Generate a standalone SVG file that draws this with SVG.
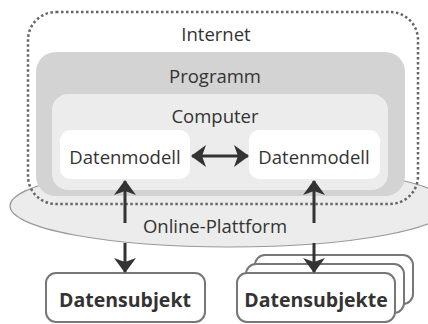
<svg xmlns="http://www.w3.org/2000/svg" width="428" height="324" viewBox="0 0 428 324">
<style>
.t{font-family:"Open Sans","Noto Sans",sans-serif;font-size:18.5px;fill:#333;text-anchor:middle}
.b{font-weight:bold;font-size:19.5px}
.subj{fill:#fff;stroke:#777;stroke-width:2}
.ln{stroke:#333;stroke-width:3;fill:none}
</style>
<defs>
<marker id="ah" viewBox="0 0 15 22" refX="14" refY="11" markerWidth="15" markerHeight="22" markerUnits="userSpaceOnUse" orient="auto-start-reverse">
<path d="M0,0 L15,11 L0,22 L4,11 Z" fill="#333"/>
</marker>
</defs>
<g id="plattform">
<ellipse cx="230" cy="206" rx="220" ry="41" fill="#ececec" stroke="#999" stroke-width="1.2"/>
<text class="t" x="215" y="233">Online-Plattform</text>
</g>
<g id="internet">
<rect x="28" y="12" width="390" height="192" rx="28" fill="none" stroke="#666" stroke-width="2.5" stroke-dasharray="2.5 2.5"/>
<text class="t" x="216" y="41">Internet</text>
</g>
<g id="programm">
<rect x="36" y="52" width="369" height="144" rx="20" fill="#d3d3d3"/>
<text class="t" x="215" y="83">Programm</text>
</g>
<g id="computer">
<rect x="52" y="94" width="336" height="96" rx="16" fill="#ececec"/>
<text class="t" x="215" y="123">Computer</text>
</g>
<g id="datenmodell1">
<rect x="60" y="130" width="130" height="49" rx="10" fill="#fff"/>
<text class="t" x="125" y="164">Datenmodell</text>
</g>
<g id="datenmodell2">
<rect x="249" y="130" width="131" height="49" rx="10" fill="#fff"/>
<text class="t" x="314" y="164">Datenmodell</text>
</g>
<g id="datensubjekt">
<rect class="subj" x="46" y="273" width="159" height="49" rx="10"/>
<text class="t b" x="125" y="307">Datensubjekt</text>
</g>
<g id="datensubjekte">
<rect class="subj" x="255" y="255" width="158" height="49" rx="10"/>
<rect class="subj" x="246" y="264" width="158" height="49" rx="10"/>
<rect class="subj" x="237" y="273" width="158" height="49" rx="10"/>
<text class="t b" x="316" y="307">Datensubjekte</text>
</g>
<g id="connectors">
<line class="ln" x1="192" y1="156" x2="248" y2="156" marker-start="url(#ah)" marker-end="url(#ah)"/>
<line class="ln" x1="125" y1="223" x2="125" y2="181" marker-end="url(#ah)"/>
<line class="ln" x1="125" y1="243" x2="125" y2="272" marker-end="url(#ah)"/>
<line class="ln" x1="314" y1="223" x2="314" y2="181" marker-end="url(#ah)"/>
<line class="ln" x1="314" y1="243" x2="314" y2="272" marker-end="url(#ah)"/>
</g>
</svg>
